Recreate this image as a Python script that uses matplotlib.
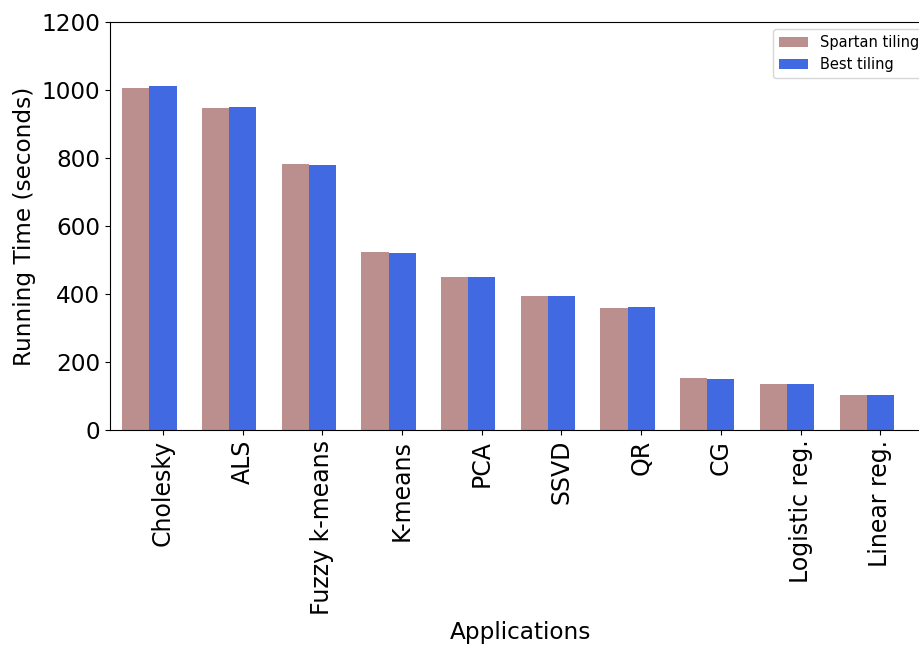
import matplotlib
matplotlib.use("Agg")
import matplotlib.pyplot as plt
import numpy as np

categories = ["Cholesky", "ALS", "Fuzzy k-means", "K-means", "PCA", "SSVD", "QR", "CG",
              "Logistic reg.", "Linear reg."]
spartan = [1006, 947, 782, 523, 450, 394, 359, 153, 135, 103]
best = [1012, 950, 779, 521, 450, 394, 362, 150, 135, 103]
yticks = [0, 200, 400, 600, 800, 1000, 1200]

W, H = 920, 646
fig = plt.figure(figsize=(W / 100, H / 100), dpi=100)
left, right, bottom, top = 110, 932, 430, 22
ax = fig.add_axes([left / W, 1 - bottom / H, (right - left) / W, (bottom - top) / H])

x = np.arange(len(categories))
w = 0.34
ax.bar(x - w, spartan, w, color="rosybrown", label="Spartan tiling")
ax.bar(x, best, w, color="royalblue", label="Best tiling")

ax.set_xlim(-0.665, 9.65)
ax.set_ylim(0, 1200)
ax.set_yticks(yticks)
ax.set_xticks(x)
ax.set_xticklabels(categories, rotation=90, fontsize=17)
ax.tick_params(axis="y", labelsize=16.7)
ax.set_ylabel("Running Time (seconds)", fontsize=16.7)
ax.set_xlabel("Applications", fontsize=16.7, labelpad=4.5)
ax.legend(loc="upper right", fontsize=10.5)

fig.savefig("out.png", dpi=100)
